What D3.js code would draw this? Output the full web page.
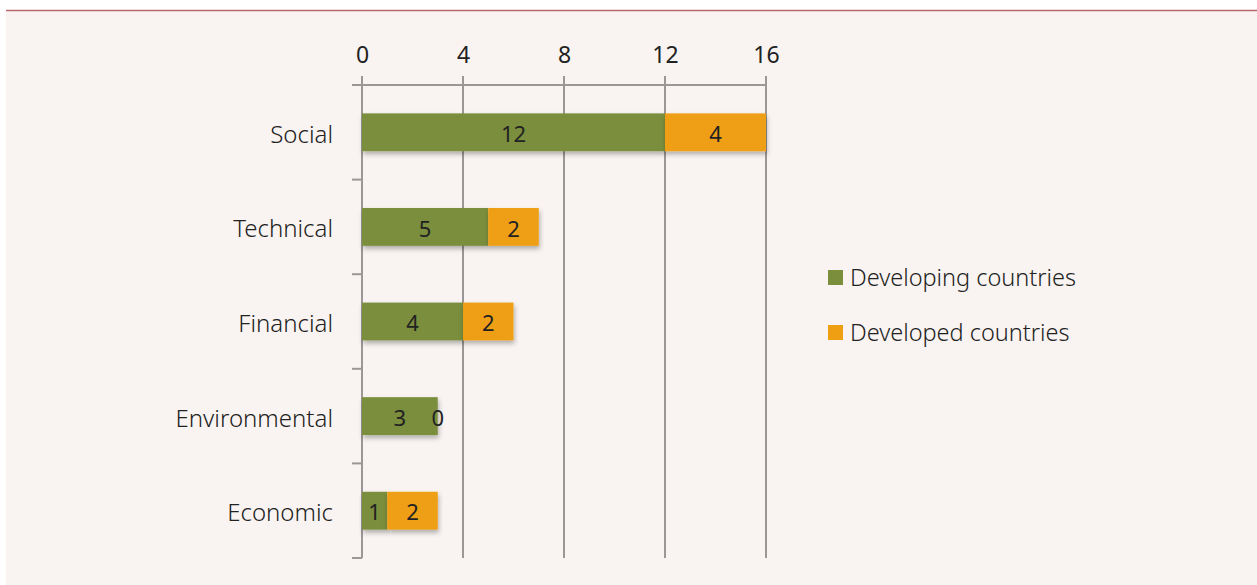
<!DOCTYPE html>
<html>
<head>
<meta charset="utf-8">
<script src="https://cdn.jsdelivr.net/npm/d3@7"></script>
<style>
  body { margin: 0; background: #ffffff; }
  svg { display: block; }
  text { font-family: "Noto Sans", "Open Sans", sans-serif; fill: #222; }
</style>
</head>
<body>
<div id="chart"></div>
<script>
var categories = ["Social", "Technical", "Financial", "Environmental", "Economic"]
var developing = [12, 5, 4, 3, 1]
var developed = [4, 2, 2, 0, 2]
var series_names = ["Developing countries", "Developed countries"]
var tick_values = [0, 4, 8, 12, 16]

var W = 1257, H = 585
var colors = ["#7a8e3c", "#ef9f12"]

var svg = d3.select("#chart").append("svg")
  .attr("width", W)
  .attr("height", H)

// panel background + top rule
svg.append("rect")
  .attr("x", 6).attr("y", 10)
  .attr("width", W - 6).attr("height", H - 10)
  .style("fill", "#f9f4f1")
svg.append("line")
  .attr("x1", 6).attr("x2", W)
  .attr("y1", 10.5).attr("y2", 10.5)
  .style("stroke", "#b8676c")
  .style("stroke-width", 1.5)

var x = d3.scaleLinear().domain([0, 16]).range([362, 766])
var y = d3.scaleBand().domain(categories).range([85, 558]).paddingInner(0.6).paddingOuter(0.3)

var defs = svg.append("defs")
var f = defs.append("filter").attr("id", "shadow")
  .attr("x", "-10%").attr("y", "-10%").attr("width", "120%").attr("height", "150%")
f.append("feDropShadow")
  .attr("dx", 1).attr("dy", 3).attr("stdDeviation", 2.5)
  .attr("flood-color", "#000").attr("flood-opacity", 0.3)

// gridlines
svg.append("g").selectAll("line")
  .data(tick_values)
  .enter().append("line")
    .attr("x1", function(d) { return x(d) }).attr("x2", function(d) { return x(d) })
    .attr("y1", 76).attr("y2", 558)
    .style("stroke", "#9a9796")
    .style("stroke-width", 2)

// top axis
var xAxis = svg.append("g")
  .attr("transform", "translate(0,85)")
  .call(d3.axisTop(x).tickValues(tick_values).tickSize(0).tickPadding(22))
xAxis.select(".domain").style("stroke", "#9a9796").style("stroke-width", 2)
  .attr("d", "M352,0H766")
xAxis.selectAll("text").style("font-size", "23px").style("fill", "#222")
  .attr("font-family", null)

// left axis with ticks between categories
var bandStep = (558 - 85) / categories.length
var leftTicks = d3.range(categories.length + 1).map(function(i) { return 85 + i * bandStep })
svg.append("line")
  .attr("x1", 362).attr("x2", 362).attr("y1", 76).attr("y2", 558)
  .style("stroke", "#9a9796").style("stroke-width", 2)
svg.append("g").selectAll("line")
  .data(leftTicks)
  .enter().append("line")
    .attr("x1", 352).attr("x2", 362)
    .attr("y1", function(d) { return d }).attr("y2", function(d) { return d })
    .style("stroke", "#9a9796").style("stroke-width", 2)

svg.append("g").selectAll("text")
  .data(categories)
  .enter().append("text")
    .attr("x", 333)
    .attr("y", function(d) { return y(d) + y.bandwidth() / 2 + 2 })
    .attr("dy", "0.35em")
    .attr("text-anchor", "end")
    .style("font-size", "24px")
    .style("font-weight", 300)
    .text(function(d) { return d })

// stacked bars
var rows = categories.map(function(c, i) { return { cat: c, v0: developing[i], v1: developed[i] } })
var stack = d3.stack().keys(["v0", "v1"])(rows)

var layers = svg.append("g").selectAll("g")
  .data(stack)
  .enter().append("g")
    .style("fill", function(d, i) { return colors[i] })

layers.selectAll("rect")
  .data(function(d) { return d })
  .enter().append("rect")
    .attr("x", function(d) { return x(d[0]) })
    .attr("y", function(d) { return y(d.data.cat) })
    .attr("width", function(d) { return x(d[1]) - x(d[0]) })
    .attr("height", y.bandwidth())
    .attr("filter", "url(#shadow)")

layers.selectAll("text")
  .data(function(d) { return d })
  .enter().append("text")
    .attr("x", function(d) { return (x(d[0]) + x(d[1])) / 2 })
    .attr("y", function(d) { return y(d.data.cat) + y.bandwidth() / 2 + 2 })
    .attr("dy", "0.35em")
    .attr("text-anchor", "middle")
    .style("font-size", "22px")
    .style("fill", "#222")
    .text(function(d) { return d[1] - d[0] })

// legend
var legend = svg.append("g").selectAll("g")
  .data(series_names)
  .enter().append("g")
    .attr("transform", function(d, i) { return "translate(828," + (278 + i * 55) + ")" })
legend.append("rect")
  .attr("x", 0).attr("y", -8)
  .attr("width", 15).attr("height", 15)
  .style("fill", function(d, i) { return colors[i] })
legend.append("text")
  .attr("x", 22).attr("y", 0)
  .attr("dy", "0.35em")
  .style("font-size", "23.5px")
  .style("font-weight", 300)
  .text(function(d) { return d })
</script>
</body>
</html>
